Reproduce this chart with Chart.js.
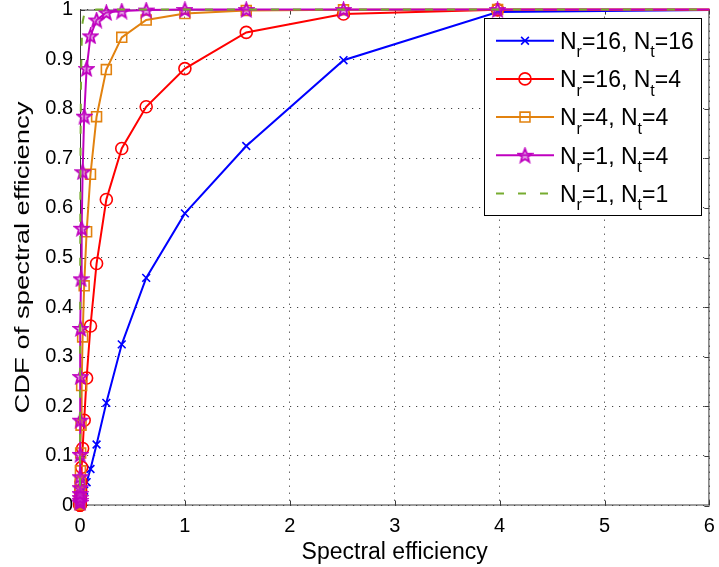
<!DOCTYPE html>
<html>
<head>
<meta charset="utf-8">
<script src="https://cdn.jsdelivr.net/npm/chart.js@4/dist/chart.umd.min.js"></script>
<style>
  html, body { margin: 0; padding: 0; background: #fff; }
  canvas { display: block; }
</style>
</head>
<body>
<canvas id="cdf" width="719" height="567"></canvas>
<script>
// Spectral efficiency sample points (log-spaced) and the CDF of each antenna setup
const spectralEff = [0.0001, 0.000158, 0.000251, 0.000398, 0.000631, 0.001, 0.00158, 0.00251, 0.00398, 0.00631,
                     0.01, 0.0158, 0.0251, 0.0398, 0.0631, 0.1, 0.158, 0.251, 0.398, 0.631,
                     1, 1.585, 2.512, 3.981, 6.31];
const cdfNr16Nt16 = [0.0001, 0.0001, 0.0002, 0.0003, 0.0005, 0.0007, 0.0012, 0.0019, 0.003, 0.0047,
                     0.0075, 0.012, 0.019, 0.03, 0.047, 0.0736, 0.123, 0.207, 0.325, 0.459,
                     0.589, 0.725, 0.898, 0.995, 1];
const cdfNr16Nt4  = [0.0005, 0.0008, 0.0013, 0.002, 0.003, 0.005, 0.008, 0.012, 0.019, 0.03,
                     0.048, 0.077, 0.115, 0.172, 0.257, 0.362, 0.488, 0.617, 0.72, 0.804,
                     0.881, 0.954, 0.991, 0.9995, 1];
const cdfNr4Nt4   = [0.002, 0.003, 0.005, 0.008, 0.012, 0.019, 0.03, 0.046, 0.07, 0.106,
                     0.162, 0.242, 0.34, 0.443, 0.552, 0.668, 0.784, 0.879, 0.944, 0.979,
                     0.992, 0.998, 0.9995, 1, 1];
const cdfNr1Nt4   = [0.006, 0.01, 0.016, 0.024, 0.036, 0.058, 0.103, 0.172, 0.26, 0.357,
                     0.457, 0.559, 0.673, 0.785, 0.881, 0.947, 0.979, 0.994, 0.997, 0.999,
                     1, 1, 1, 1, 1];
const cdfNr1Nt1   = [0.04, 0.065, 0.1, 0.15, 0.22, 0.31, 0.42, 0.54, 0.66, 0.77,
                     0.86, 0.93, 0.975, 0.99, 0.997, 0.999, 1, 1, 1, 1,
                     1, 1, 1, 1, 1];

// Receive / transmit antenna counts for each curve (used for the legend labels)
const rxAntennas = [16, 16, 4, 1, 1];
const txAntennas = [16, 4, 4, 4, 1];

const xTickLabels = ['0', '1', '2', '3', '4', '5', '6'];
const yTickLabels = ['0', '0.1', '0.2', '0.3', '0.4', '0.5', '0.6', '0.7', '0.8', '0.9', '1'];
const xTitle = 'Spectral efficiency';
const yTitle = 'CDF of spectral efficiency';

const FONT = "'Liberation Sans', Arial, Helvetica, sans-serif";

// Five-pointed star marker drawn on its own small canvas
function makePentagram(size, color) {
  const c = document.createElement('canvas');
  c.width = size; c.height = size;
  const g = c.getContext('2d');
  const cx = size / 2, cy = size / 2 + 0.6;
  const outer = size / 2 - 1.2, inner = outer * 0.42;
  g.beginPath();
  for (let i = 0; i < 10; i++) {
    const r = i % 2 === 0 ? outer : inner;
    const a = -Math.PI / 2 + i * Math.PI / 5;
    const px = cx + r * Math.cos(a), py = cy + r * Math.sin(a);
    if (i === 0) g.moveTo(px, py); else g.lineTo(px, py);
  }
  g.closePath();
  g.fillStyle = 'rgba(200,60,200,0.45)';
  g.fill();
  g.lineWidth = 1.8;
  g.lineJoin = 'miter';
  g.strokeStyle = color;
  g.stroke();
  return c;
}

const series = [
  { values: cdfNr16Nt16, color: '#0000ff', pointStyle: 'crossRot', radius: 5.5 },
  { values: cdfNr16Nt4,  color: '#ff0000', pointStyle: 'circle',   radius: 6 },
  { values: cdfNr4Nt4,   color: '#e2820f', pointStyle: 'rect',     radius: 7 },
  { values: cdfNr1Nt4,   color: '#bf00bf', pointStyle: makePentagram(17, '#bf00bf'), radius: 8 },
  { values: cdfNr1Nt1,   color: '#77ac30', pointStyle: false, radius: 0, dash: [8, 14] }
];

const datasets = series.map((s, i) => ({
  label: `N_r=${rxAntennas[i]}, N_t=${txAntennas[i]}`,
  data: spectralEff.map((x, k) => ({ x, y: s.values[k] })),
  borderColor: s.color,
  backgroundColor: s.color,
  borderWidth: 2,
  borderDash: s.dash || [],
  pointStyle: s.pointStyle,
  pointRadius: s.radius,
  pointBorderWidth: 1.6,
  pointBorderColor: s.color,
  pointBackgroundColor: 'rgba(0,0,0,0)',
  tension: 0,
  order: series.length - 1 - i,
  clip: { left: 12, top: 12, right: 0, bottom: 12 }
}));

// Axes box and inward tick marks
const axesBox = {
  id: 'axesBox',
  beforeDatasetsDraw(chart) {
    const { ctx, chartArea: a, scales: { x, y } } = chart;
    ctx.save();
    ctx.strokeStyle = '#3a3a3a';
    ctx.lineWidth = 1;
    ctx.strokeRect(a.left + 0.5, a.top + 0.5, a.right - a.left - 1, a.bottom - a.top - 1);
    ctx.beginPath();
    const tl = 5;
    xTickLabels.forEach((_, i) => {
      const px = Math.round(x.getPixelForValue(i)) + 0.5;
      ctx.moveTo(px, a.bottom); ctx.lineTo(px, a.bottom - tl);
      ctx.moveTo(px, a.top); ctx.lineTo(px, a.top + tl);
    });
    yTickLabels.forEach((_, i) => {
      const py = Math.round(y.getPixelForValue(i / 10)) + 0.5;
      ctx.moveTo(a.left, py); ctx.lineTo(a.left + tl, py);
      ctx.moveTo(a.right, py); ctx.lineTo(a.right - tl, py);
    });
    ctx.stroke();
    ctx.restore();
  }
};

// Vertical axis title, drawn stretched along its length
const yAxisTitle = {
  id: 'yAxisTitle',
  afterDraw(chart) {
    const { ctx, chartArea: a } = chart;
    ctx.save();
    ctx.font = `21px ${FONT}`;
    const w = ctx.measureText(yTitle).width;
    const stretch = 312 / w;
    ctx.translate(23.5, (a.top + a.bottom) / 2);
    ctx.rotate(-Math.PI / 2);
    ctx.scale(stretch, 1);
    ctx.fillStyle = '#000';
    ctx.textAlign = 'center';
    ctx.textBaseline = 'middle';
    ctx.fillText(yTitle, 0, 0);
    ctx.restore();
  }
};

// Legend with subscripted antenna labels
const subLegend = {
  id: 'subLegend',
  afterDraw(chart) {
    const { ctx } = chart;
    const box = { x: 484.5, y: 18.5, w: 217, h: 197 };
    const rowGap = 38.2, firstRow = 40.7;
    ctx.save();
    ctx.fillStyle = '#fff';
    ctx.fillRect(box.x, box.y, box.w, box.h);
    ctx.strokeStyle = '#000';
    ctx.lineWidth = 1;
    ctx.strokeRect(box.x, box.y, box.w, box.h);
    chart.data.datasets.forEach((ds, i) => {
      const yRow = firstRow + i * rowGap;
      ctx.save();
      ctx.strokeStyle = ds.borderColor;
      ctx.lineWidth = 2;
      ctx.setLineDash(ds.borderDash || []);
      ctx.beginPath();
      ctx.moveTo(496, yRow); ctx.lineTo(554, yRow);
      ctx.stroke();
      ctx.setLineDash([]);
      if (ds.pointStyle) {
        ctx.strokeStyle = ds.pointBorderColor;
        ctx.fillStyle = ds.pointBackgroundColor;
        ctx.lineWidth = ds.pointBorderWidth;
        Chart.helpers.drawPoint(ctx, { pointStyle: ds.pointStyle, radius: ds.pointRadius, rotation: 0, borderWidth: ds.pointBorderWidth }, 525, yRow);
      }
      ctx.restore();
      // Label text: "N_r=.., N_t=.." with subscripts
      const parts = ds.label.split(/_(.)/);
      let xPos = 560;
      const base = yRow + 8.3;
      ctx.fillStyle = '#000';
      ctx.textBaseline = 'alphabetic';
      ctx.textAlign = 'left';
      parts.forEach((p, k) => {
        if (k % 2 === 1) {
          ctx.font = `16px ${FONT}`;
          ctx.fillText(p, xPos, base + 8.4);
        } else {
          ctx.font = `23px ${FONT}`;
          ctx.fillText(p, xPos, base);
        }
        xPos += ctx.measureText(p).width;
      });
    });
    ctx.restore();
  }
};

new Chart(document.getElementById('cdf'), {
  type: 'line',
  data: { datasets },
  plugins: [axesBox, yAxisTitle, subLegend],
  options: {
    responsive: false,
    animation: false,
    events: [],
    layout: { padding: { left: 0, right: 8, top: 9.5, bottom: 0 } },
    plugins: { legend: { display: false }, tooltip: { enabled: false } },
    scales: {
      x: {
        type: 'linear',
        min: 0, max: 6,
        afterFit(s) { s.height = 61.5; s.paddingLeft = 0; s.paddingRight = 0; },
        ticks: {
          stepSize: 1,
          autoSkip: false,
          maxRotation: 0,
          padding: 9,
          color: '#000',
          font: { family: FONT, size: 20 },
          callback: v => xTickLabels[Math.round(v)]
        },
        grid: { color: '#444', lineWidth: 1, drawTicks: false },
        border: { display: false, dash: [1.2, 5.8] },
        title: {
          display: true,
          text: xTitle,
          color: '#000',
          font: { family: FONT, size: 23 },
          padding: { top: 0, bottom: 1 }
        }
      },
      y: {
        type: 'linear',
        min: 0, max: 1,
        afterFit(s) { s.width = 80; s.paddingTop = 0; s.paddingBottom = 0; },
        ticks: {
          stepSize: 0.1,
          autoSkip: false,
          padding: 7,
          color: '#000',
          font: { family: FONT, size: 20 },
          callback: v => yTickLabels[Math.round(v * 10)]
        },
        grid: { color: '#444', lineWidth: 1, drawTicks: false },
        border: { display: false, dash: [1.2, 5.8] },
        title: { display: false }
      }
    }
  }
});
</script>
</body>
</html>
